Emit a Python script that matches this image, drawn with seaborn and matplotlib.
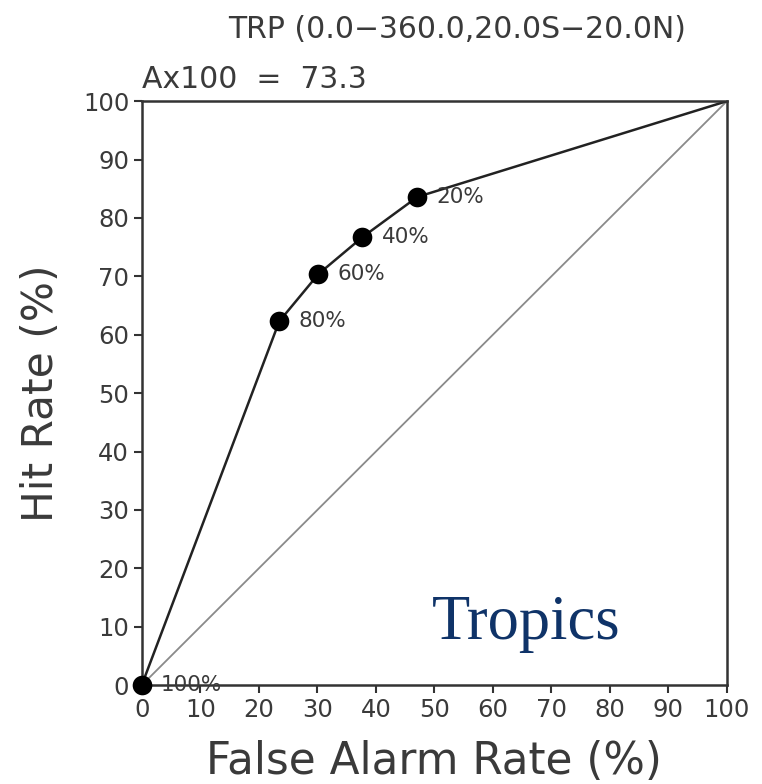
import matplotlib
matplotlib.use("Agg")
import matplotlib.pyplot as plt
import seaborn as sns
import pandas as pd

# ROC curve points (false alarm rate, hit rate) for each probability threshold
thresholds = ["100%", "80%", "60%", "40%", "20%"]
false_alarm = [0.0, 23.5, 30.2, 37.7, 47.1]
hit_rate = [0.0, 62.3, 70.4, 76.7, 83.6]
area_x100 = 73.3

tick_values = list(range(0, 101, 10))

sns.set_theme(style="white")
plt.rcParams["font.family"] = ["DejaVu Sans"]

TEXT = "#3a3a3a"

fig = plt.figure(figsize=(7.62, 7.84), dpi=100)
ax = fig.add_axes([0.186, 0.126, 0.768, 0.745])

# curve closes at the (100, 100) corner
curve = pd.DataFrame({
    "far": false_alarm + [100.0],
    "hr": hit_rate + [100.0],
})
pts = pd.DataFrame({"far": false_alarm, "hr": hit_rate, "thr": thresholds})

# no-skill diagonal
ax.plot([0, 100], [0, 100], color="#8a8a8a", lw=1.3, zorder=1)
sns.lineplot(data=curve, x="far", y="hr", ax=ax, color="#222222", lw=1.8,
             sort=False, estimator=None, zorder=2)
sns.scatterplot(data=pts, x="far", y="hr", ax=ax, color="black", s=200,
                edgecolor="black", linewidth=0, zorder=3, clip_on=False)

for _, r in pts.iterrows():
    ax.annotate(r["thr"], (r["far"], r["hr"]), xytext=(14, 0),
                textcoords="offset points", va="center", ha="left",
                fontsize=15.5, color=TEXT, zorder=4, annotation_clip=False)

ax.set_xlim(0, 100)
ax.set_ylim(0, 100)
ax.set_xticks(tick_values)
ax.set_yticks(tick_values)
ax.tick_params(axis="both", direction="out", length=6, width=1.5,
               color="#333333", labelsize=17.5, labelcolor=TEXT, pad=3,
               bottom=True, left=True)
for s in ax.spines.values():
    s.set_color("#333333")
    s.set_linewidth(1.8)

ax.set_xlabel("False Alarm Rate (%)", fontsize=31.5, color=TEXT, labelpad=13)
ax.set_ylabel("Hit Rate (%)", fontsize=30.5, color=TEXT, labelpad=15)

fig.text(228 / 762, 1 - 30 / 784, "TRP (0.0\u2212360.0,20.0S\u221220.0N)",
         fontsize=21.5, color=TEXT, ha="left", va="center")
ax.text(0.0, 1.012, f"Ax100  =  {area_x100}", transform=ax.transAxes,
        fontsize=21.5, color=TEXT, ha="left", va="bottom")

ax.text(0.657, 0.105, "Tropics", transform=ax.transAxes,
        fontsize=45, color="#0f3368", family="Liberation Serif",
        ha="center", va="center")

fig.savefig("out.png", dpi=100)
